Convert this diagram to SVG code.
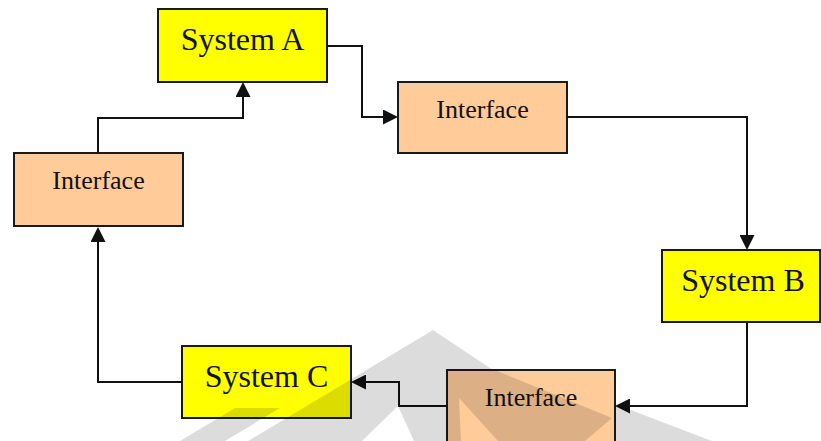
<svg xmlns="http://www.w3.org/2000/svg" width="821" height="441" viewBox="0 0 821 441">
  <defs>
    <marker id="arrow" viewBox="0 0 15 15" markerWidth="15" markerHeight="15" refX="11" refY="7.5" orient="auto" markerUnits="userSpaceOnUse">
      <path d="M0,0 L15,7.5 L0,15 z" fill="#111"/>
    </marker>
    <style>
      .system { fill: #ffff00; stroke: #1a1a1a; stroke-width: 2; }
      .iface { fill: #ffcc99; stroke: #1a1a1a; stroke-width: 2; }
      .sys-label { font-family: "Liberation Serif", "Times New Roman", serif; font-size: 32px; fill: #111; text-anchor: middle; }
      .if-label { font-family: "Liberation Serif", "Times New Roman", serif; font-size: 26px; fill: #111; text-anchor: middle; }
      .link { fill: none; stroke: #111; stroke-width: 2; marker-end: url(#arrow); }
      .mark { fill: #000; fill-opacity: 0.137; }
    </style>
  </defs>
  <rect width="821" height="441" fill="#fff"/>

  <!-- nodes -->
  <g id="system-a">
    <rect class="system" x="158" y="9" width="169" height="73"/>
    <text class="sys-label" x="242.5" y="50">System A</text>
  </g>
  <g id="interface-ab">
    <rect class="iface" x="398" y="82" width="169" height="71"/>
    <text class="if-label" x="482.5" y="118">Interface</text>
  </g>
  <g id="system-b">
    <rect class="system" x="662" y="250" width="158" height="72"/>
    <text class="sys-label" x="743" y="291">System B</text>
  </g>
  <g id="interface-bc">
    <rect class="iface" x="447" y="370" width="168" height="80"/>
    <text class="if-label" x="531" y="406">Interface</text>
  </g>
  <g id="system-c">
    <rect class="system" x="182" y="346" width="169" height="72"/>
    <text class="sys-label" x="266.5" y="387">System C</text>
  </g>
  <g id="interface-ca">
    <rect class="iface" x="14" y="153" width="169" height="73"/>
    <text class="if-label" x="98.5" y="189">Interface</text>
  </g>

  <!-- connectors -->
  <g id="connectors">
    <path class="link" d="M327,46 H362 V117 H394"/>
    <path class="link" d="M567,117 H747 V246"/>
    <path class="link" d="M747,322 V406 H619"/>
    <path class="link" d="M447,406 H399 V382 H355"/>
    <path class="link" d="M182,382 H98 V231"/>
    <path class="link" d="M98,153 V118 H243 V86"/>
  </g>

  <!-- faint background emblem -->
  <g id="emblem">
    <path class="mark" d="M433,330 L490,368 L612,418 L585,441 L248,441 Z M398,406 L362,441 L414,441 Z M459,398 L461,441 L498,441 Z" fill-rule="evenodd"/>
    <path class="mark" d="M615,404 L712,441 L615,441 Z"/>
    <path class="mark" d="M235,408 L280,408 L225,441 L180,441 Z"/>
  </g>
</svg>
